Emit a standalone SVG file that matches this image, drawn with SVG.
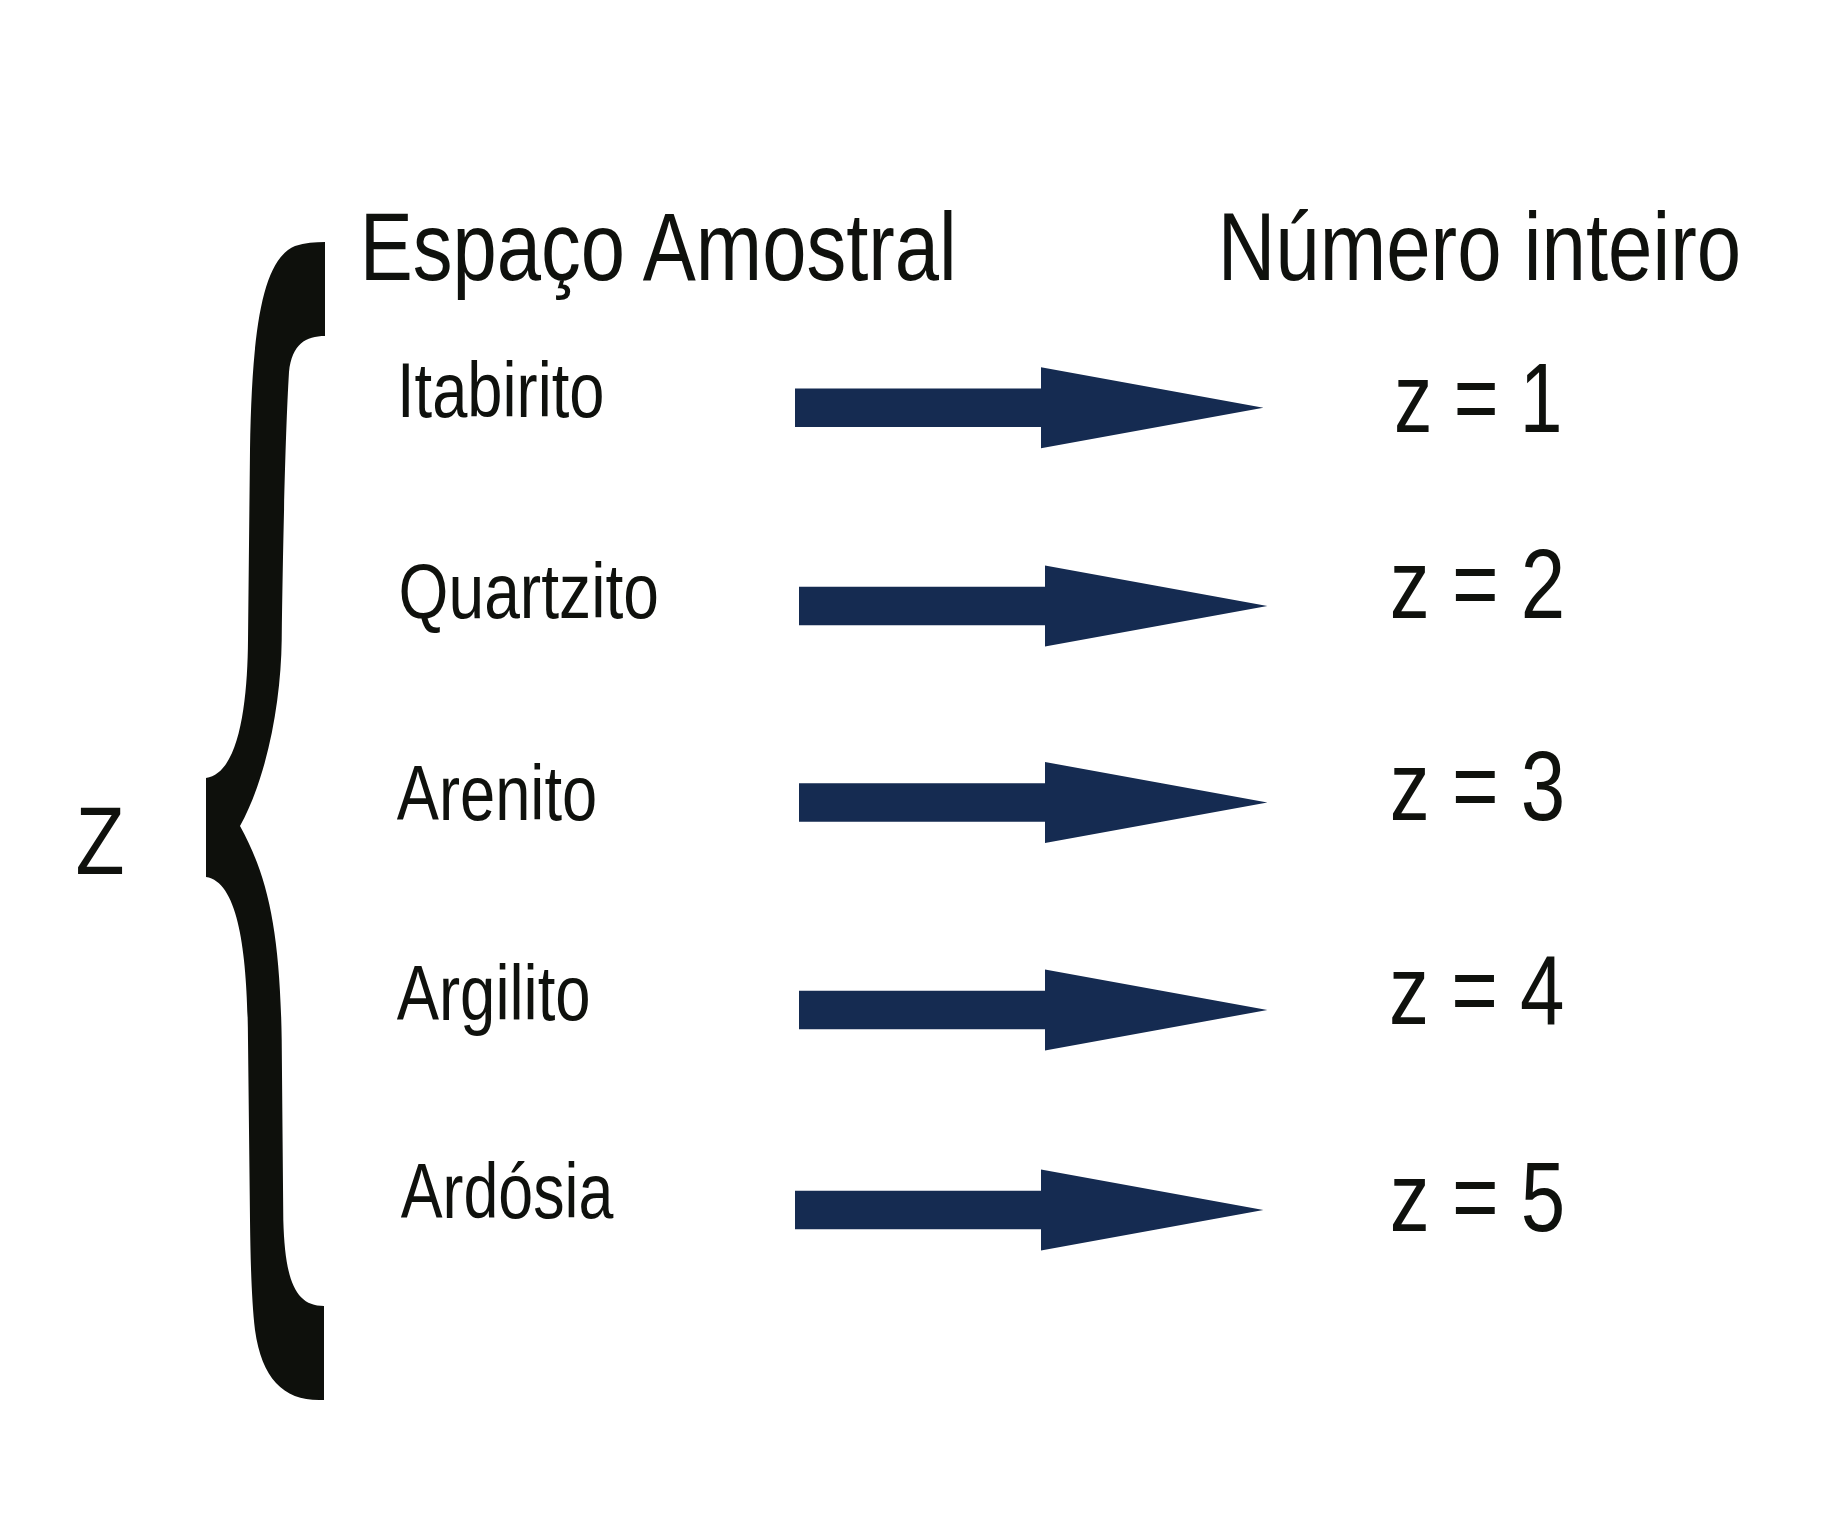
<svg xmlns="http://www.w3.org/2000/svg" xmlns:xlink="http://www.w3.org/1999/xlink" width="1846" height="1534" viewBox="0 0 1846 1534">
<style>
  text { font-family: "Liberation Sans", Arial, sans-serif; fill: #0f110d; }
  .head { font-size: 96px; }
  .item { font-size: 77px; }
  .val { font-size: 98px; }
  .var { font-size: 97px; }
  .arrow { fill: #152b51; }
  .brace { fill: #0e100c; }
</style>
<defs>
  <path id="arrowShape" d="M0,-19.3 L246,-19.3 L246,-40.5 L468.4,0 L246,40.5 L246,19.3 L0,19.3 Z"/>
</defs>
<rect x="0" y="0" width="1846" height="1534" fill="#ffffff"/>

<g id="brace">
  <path class="brace" d="M325,242 L325,336 C306,336 292,344 289,372 C285.5,430 283,540 281.7,640 C281,700 268,775 240,826 C268,877 280,930 281.7,1040 L283.3,1220 C285,1280 295,1306 324,1306 L324,1400 C285,1402 262,1380 255,1330 C251.5,1300 250.5,1260 250,1220 L248,1040 C247.5,960 240,882 206,877 L206,778 C240,773 247.5,700 248,640 L250,450 C252,330 262,260 295,246 C305,242.5 315,242 325,242 Z"/>
</g>

<g id="node-z">
  <text class="var" x="75.5" y="874" textLength="49.1" lengthAdjust="spacingAndGlyphs">Z</text>
</g>
<g id="node-header-espaco">
  <text class="head" x="359.7" y="279.5" textLength="597" lengthAdjust="spacingAndGlyphs">Espaço Amostral</text>
</g>
<g id="node-header-numero">
  <text class="head" x="1217.7" y="279.5" textLength="523.5" lengthAdjust="spacingAndGlyphs">Número inteiro</text>
</g>

<g id="node-itabirito">
  <text class="item" x="397" y="417" textLength="207.5" lengthAdjust="spacingAndGlyphs">Itabirito</text>
</g>
<g id="node-quartzito">
  <text class="item" x="398.6" y="617.5" textLength="260.3" lengthAdjust="spacingAndGlyphs">Quartzito</text>
</g>
<g id="node-arenito">
  <text class="item" x="396.7" y="820" textLength="200.5" lengthAdjust="spacingAndGlyphs">Arenito</text>
</g>
<g id="node-argilito">
  <text class="item" x="396.7" y="1019.5" textLength="193.9" lengthAdjust="spacingAndGlyphs">Argilito</text>
</g>
<g id="node-ardosia">
  <text class="item" x="400.7" y="1218.3" textLength="212.7" lengthAdjust="spacingAndGlyphs">Ardósia</text>
</g>

<g id="node-z1">
  <text class="val" x="1394" y="432" textLength="168.5" lengthAdjust="spacingAndGlyphs">z = 1</text>
</g>
<g id="node-z2">
  <text class="val" x="1389.8" y="617.5" textLength="175.4" lengthAdjust="spacingAndGlyphs">z = 2</text>
</g>
<g id="node-z3">
  <text class="val" x="1389.8" y="820" textLength="175.4" lengthAdjust="spacingAndGlyphs">z = 3</text>
</g>
<g id="node-z4">
  <text class="val" x="1389" y="1024" textLength="175.4" lengthAdjust="spacingAndGlyphs">z = 4</text>
</g>
<g id="node-z5">
  <text class="val" x="1389.8" y="1230.5" textLength="175.4" lengthAdjust="spacingAndGlyphs">z = 5</text>
</g>

<g id="connectors">
  <use class="arrow" xlink:href="#arrowShape" href="#arrowShape" transform="translate(795,407.7)"/>
  <use class="arrow" xlink:href="#arrowShape" href="#arrowShape" transform="translate(799,606)"/>
  <use class="arrow" xlink:href="#arrowShape" href="#arrowShape" transform="translate(799,802.5)"/>
  <use class="arrow" xlink:href="#arrowShape" href="#arrowShape" transform="translate(799,1010)"/>
  <use class="arrow" xlink:href="#arrowShape" href="#arrowShape" transform="translate(795,1210)"/>
</g>
</svg>
